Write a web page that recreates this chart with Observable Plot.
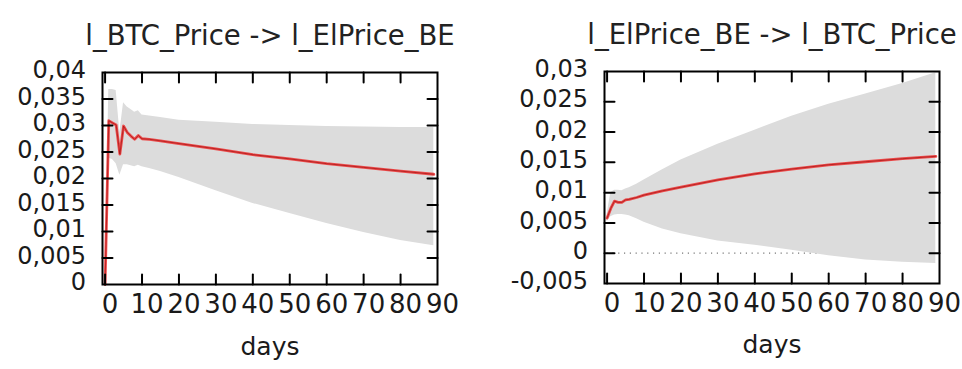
<!DOCTYPE html>
<html>
<head>
<meta charset="utf-8">
<script src="https://cdn.jsdelivr.net/npm/d3@7"></script>
<script src="https://cdn.jsdelivr.net/npm/@observablehq/plot@0.6"></script>
<style>
  html, body { margin: 0; padding: 0; background: #fff; }
  #wrap { display: flex; width: 962px; height: 369px; }
  #wrap svg { display: block; }
</style>
</head>
<body>
<div id="wrap"></div>
<script>
// ---------- Data ----------
const titleLeft = "l_BTC_Price -> l_ElPrice_BE";
const titleRight = "l_ElPrice_BE -> l_BTC_Price";
const xLabel = "days";

const xTicks = [0, 10, 20, 30, 40, 50, 60, 70, 80, 90];
const xTickLabels = ["0", "10", "20", "30", "40", "50", "60", "70", "80", "90"];

const yTicksLeft = [0, 0.005, 0.01, 0.015, 0.02, 0.025, 0.03, 0.035, 0.04];
const yTickLabelsLeft = ["0", "0,005", "0,01", "0,015", "0,02", "0,025", "0,03", "0,035", "0,04"];

const yTicksRight = [-0.005, 0, 0.005, 0.01, 0.015, 0.02, 0.025, 0.03];
const yTickLabelsRight = ["-0,005", "0", "0,005", "0,01", "0,015", "0,02", "0,025", "0,03"];

// Left: response of l_ElPrice_BE to l_BTC_Price
const daysLeft = [0, 1, 2, 3, 4, 5, 6, 7, 8, 9, 10, 12, 15, 20, 30, 40, 50, 60, 70, 80, 89];
const irfLeft  = [0, 0.0309, 0.0305, 0.0301, 0.0246, 0.0299, 0.0287, 0.0280, 0.0274, 0.0281, 0.0275, 0.0274, 0.0271, 0.0266, 0.0256, 0.0245, 0.0237, 0.0228, 0.0221, 0.0214, 0.0208];
const hiLeft   = [0, 0.0368, 0.0368, 0.0366, 0.0287, 0.0343, 0.0335, 0.0330, 0.0325, 0.0328, 0.0320, 0.0318, 0.0315, 0.0310, 0.0306, 0.0302, 0.0300, 0.0298, 0.0297, 0.0296, 0.0296];
const loLeft   = [0, 0.0238, 0.0236, 0.0228, 0.0206, 0.0226, 0.0226, 0.0224, 0.0222, 0.0225, 0.0222, 0.0219, 0.0213, 0.0202, 0.0177, 0.0153, 0.0134, 0.0115, 0.0098, 0.0083, 0.0073];

// Right: response of l_BTC_Price to l_ElPrice_BE
const daysRight = [0, 1, 2, 3, 4, 5, 6, 8, 10, 15, 20, 30, 40, 50, 60, 70, 80, 89];
const irfRight  = [0.0058, 0.0074, 0.0086, 0.0084, 0.0084, 0.0088, 0.0089, 0.0092, 0.0096, 0.0103, 0.0109, 0.0121, 0.0131, 0.0139, 0.0146, 0.0151, 0.0156, 0.0160];
const hiRight   = [0.0064, 0.0100, 0.0104, 0.0104, 0.0103, 0.0106, 0.0108, 0.0114, 0.0121, 0.0138, 0.0154, 0.0180, 0.0203, 0.0226, 0.0246, 0.0263, 0.0280, 0.0298];
const loRight   = [0.0052, 0.0060, 0.0063, 0.0064, 0.0064, 0.0063, 0.0062, 0.0057, 0.0051, 0.0040, 0.0032, 0.0020, 0.0013, 0.0005, -0.0004, -0.0011, -0.0015, -0.0017];

// ---------- Drawing ----------
const FONT = "DejaVu Sans";
const TEXT = "#1a1a1a";
const tickShape = { draw(ctx, l) { ctx.moveTo(0, 0); ctx.lineTo(0, -l); } };

function panel({title, days, irf, hi, lo, yTicks, yLabels, yDomain, margins, zeroLine, dyX, dyDays}) {
  const rows = days.map((t, i) => ({t, v: irf[i], hi: hi[i], lo: lo[i]}));
  const inner = (arr, dom) => arr.filter(d => d > dom[0] && d < dom[1]);
  const xDomain = [-0.7, 90];
  const tickOpts = {length: 10, anchor: "start", shape: tickShape, stroke: "#000", strokeWidth: 2};
  const marks = [];
  if (zeroLine) {
    marks.push(Plot.ruleY([0], {x1: 0, x2: days[days.length - 1], stroke: "#777", strokeWidth: 1.2, strokeDasharray: "1.2,4.6"}));
  }
  marks.push(
    Plot.areaY(rows, {x: "t", y1: "lo", y2: "hi", fill: "#dcdcdc"}),
    Plot.lineY(rows, {x: "t", y: "v", stroke: "#ee3030", strokeWidth: 2.8, strokeOpacity: 0.85}),
    Plot.lineY(rows, {x: "t", y: "v", stroke: "#a01414", strokeWidth: 0.7}),
    Plot.frame({stroke: "#000", strokeWidth: 2}),
    // inward ticks on all four sides
    Plot.vector(inner(yTicks, yDomain), {...tickOpts, y: d => d, frameAnchor: "left", rotate: 90}),
    Plot.vector(inner(yTicks, yDomain), {...tickOpts, y: d => d, frameAnchor: "right", rotate: -90}),
    Plot.vector(inner(xTicks, xDomain), {...tickOpts, x: d => d, frameAnchor: "bottom", rotate: 0}),
    Plot.vector(inner(xTicks, xDomain), {...tickOpts, x: d => d, frameAnchor: "top", rotate: 180}),
    // tick labels
    Plot.text(yTicks, {y: d => d, frameAnchor: "left", textAnchor: "end", dx: -16.5, dy: -2,
      text: (d, i) => yLabels[i], fontSize: 24, letterSpacing: 1.5, fill: TEXT}),
    Plot.text(xTicks, {x: d => d, frameAnchor: "bottom", dx: 5, dy: dyX,
      text: (d, i) => xTickLabels[i], fontSize: 26, fill: TEXT}),
    Plot.text([xLabel], {frameAnchor: "bottom", dy: dyDays, text: d => d, fontSize: 25, fill: TEXT}),
    Plot.text([title], {frameAnchor: "top", dy: -47.5, text: d => d, fontSize: 27.5, fill: "#222"})
  );
  return Plot.plot({
    width: 481,
    height: 369,
    ...margins,
    style: {fontFamily: FONT, background: "#fff", overflow: "visible"},
    x: {domain: xDomain, axis: null},
    y: {domain: yDomain, axis: null},
    marks
  });
}

const wrap = document.getElementById("wrap");
wrap.appendChild(panel({
  title: titleLeft, days: daysLeft, irf: irfLeft, hi: hiLeft, lo: loLeft,
  yTicks: yTicksLeft, yLabels: yTickLabelsLeft, yDomain: [0, 0.04],
  margins: {marginLeft: 102, marginRight: 44, marginTop: 72, marginBottom: 85},
  zeroLine: false, dyX: 28, dyDays: 70
}));
wrap.appendChild(panel({
  title: titleRight, days: daysRight, irf: irfRight, hi: hiRight, lo: loRight,
  yTicks: yTicksRight, yLabels: yTickLabelsRight, yDomain: [-0.005, 0.03],
  margins: {marginLeft: 123, marginRight: 23, marginTop: 71, marginBottom: 86},
  zeroLine: true, dyX: 28, dyDays: 69
}));
</script>
</body>
</html>
